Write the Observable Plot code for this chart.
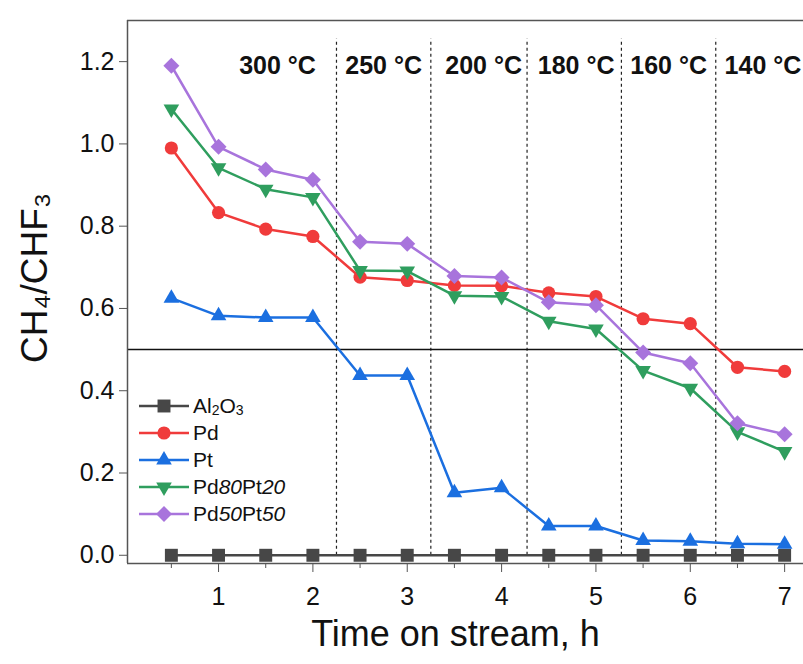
<!DOCTYPE html>
<html><head><meta charset="utf-8">
<script src="https://cdn.jsdelivr.net/npm/d3@7"></script>
<script src="https://cdn.jsdelivr.net/npm/@observablehq/plot@0.6"></script>
<style>
body{margin:0;background:#fff;font-family:"Liberation Sans",Arial,sans-serif;}
#wrap{position:relative;width:803px;height:664px;}
#legend{position:absolute;left:139px;top:392px;}
.row{display:flex;align-items:center;height:27px;font-size:21px;color:#111;}
.row svg{margin-right:4px;display:block}
.s{font-size:14px;vertical-align:-2px}
</style></head><body><div id="wrap"><div id="legend"></div></div>
<script>
const hours = [0.5,1,1.5,2,2.5,3,3.5,4,4.5,5,5.5,6,6.5,7];
const al2o3 = [0,0,0,0,0,0,0,0,0,0,0,0,0,0];
const pd = [0.99,0.833,0.793,0.775,0.676,0.668,0.656,0.655,0.638,0.629,0.575,0.563,0.457,0.447];
const pt = [0.625,0.582,0.578,0.578,0.437,0.437,0.152,0.164,0.071,0.071,0.036,0.034,0.028,0.027];
const pd80pt20 = [1.085,0.942,0.89,0.87,0.692,0.691,0.631,0.629,0.569,0.55,0.449,0.406,0.3,0.252];
const pd50pt50 = [1.19,0.993,0.938,0.913,0.762,0.757,0.679,0.675,0.615,0.608,0.493,0.467,0.321,0.294];
const seriesNames = ["Al2O3","Pd","Pt","Pd80Pt20","Pd50Pt50"];
const seriesLabelsHTML = ['Al<span class="s">2</span>O<span class="s">3</span>','Pd','Pt','Pd<i>80</i>Pt<i>20</i>','Pd<i>50</i>Pt<i>50</i>'];
const seriesValues = [al2o3, pd, pt, pd80pt20, pd50pt50];
const colors = ["#474747","#f03b3b","#1b6fe0","#2f9e5e","#a874dc"];
const symbols = ["square","circle","triangle","triangle","diamond2"];
const rotations = [0,0,0,180,0];
const radii = [7.3,6.6,5.8,5.8,7.2];
const tempLabels = ["300 °C","250 °C","200 °C","180 °C","160 °C","140 °C"];
const tempLabelX = [1.625,2.75,3.81,4.79,5.77,6.77];
const boundaries = [2.25,3.25,4.27,5.27,6.27];
const xTicks = [1,2,3,4,5,6,7];
const xMinorTicks = [0.5,1.5,2.5,3.5,4.5,5.5,6.5];
const yTicks = [0,0.2,0.4,0.6,0.8,1.0,1.2];
const refLevel = [0.5];

const xDomain = [0.035, 7.2];
const yDomain = [-0.02, 1.3];
const font = '"Liberation Sans", Arial, sans-serif';

const marks = [];
marks.push(Plot.ruleX(boundaries, {y1: 0, y2: 1.255, stroke: "#222", strokeWidth: 1.2, strokeDasharray: "3,3"}));
marks.push(Plot.ruleY(refLevel, {stroke: "#111", strokeWidth: 1.5}));
seriesValues.forEach((vals, i) => {
  const rows = hours.map((h, j) => ({h, v: vals[j]}));
  marks.push(Plot.line(rows, {x: "h", y: "v", stroke: colors[i], strokeWidth: 2.5}));
  marks.push(Plot.dot(rows, {x: "h", y: "v", symbol: symbols[i], r: radii[i], fill: colors[i], stroke: "none", rotate: rotations[i]}));
});
marks.push(Plot.text(tempLabels, {x: (d, i) => tempLabelX[i], y: 1.19, text: d => d, fontWeight: "bold", fontSize: 25, fill: "#111"}));
// frame (left, top, bottom)
marks.push(Plot.ruleX([xDomain[0]], {stroke: "#555", strokeWidth: 1.5}));
marks.push(Plot.ruleY([yDomain[1]], {stroke: "#555", strokeWidth: 1.5}));
marks.push(Plot.ruleY([yDomain[0]], {stroke: "#555", strokeWidth: 1.5}));
marks.push(Plot.axisY({ticks: yTicks, tickFormat: d3.format(".1f"), tickSize: 8, tickPadding: 5, fontSize: 25, label: null, stroke: "#555"}));
marks.push(Plot.axisX({ticks: xTicks, tickSize: 9, tickPadding: 15, fontSize: 25, label: null, stroke: "#555"}));
marks.push(Plot.axisX({ticks: xMinorTicks, tickSize: 5, tickFormat: () => "", label: null, stroke: "#555"}));
marks.push(Plot.text(["CH₄/CHF₃"], {frameAnchor: "left", textAnchor: "middle", rotate: -90, dx: -92, dy: -14, fontSize: 37, fill: "#111"}));
marks.push(Plot.text(["Time on stream, h"], {frameAnchor: "bottom", dx: -10, dy: 82, fontSize: 36, fill: "#111"}));

const chart = Plot.plot({
  width: 803, height: 664,
  marginLeft: 127, marginRight: 0, marginTop: 20, marginBottom: 101,
  x: {domain: xDomain},
  y: {domain: yDomain},
  style: {fontFamily: font, color: "#111", background: "#fff", overflow: "visible"},
  marks
});
const wrap = document.getElementById("wrap");
wrap.insertBefore(chart, wrap.firstChild);

const legend = document.getElementById("legend");
seriesNames.forEach((name, i) => {
  const row = document.createElement("div");
  row.className = "row";
  const svg = d3.create("svg").attr("width", 50).attr("height", 22);
  svg.append("line").attr("x1", 0).attr("x2", 50).attr("y1", 11).attr("y2", 11).attr("stroke", colors[i]).attr("stroke-width", 2.5);
  const symType = {square: d3.symbolSquare, circle: d3.symbolCircle, triangle: d3.symbolTriangle, diamond2: d3.symbolDiamond2}[symbols[i]];
  svg.append("path").attr("d", d3.symbol(symType, Math.PI * radii[i] * radii[i])())
    .attr("transform", `translate(25,11) rotate(${rotations[i]})`).attr("fill", colors[i]);
  row.appendChild(svg.node());
  const label = document.createElement("span");
  label.innerHTML = seriesLabelsHTML[i];
  row.appendChild(label);
  legend.appendChild(row);
});
</script>
</body></html>
